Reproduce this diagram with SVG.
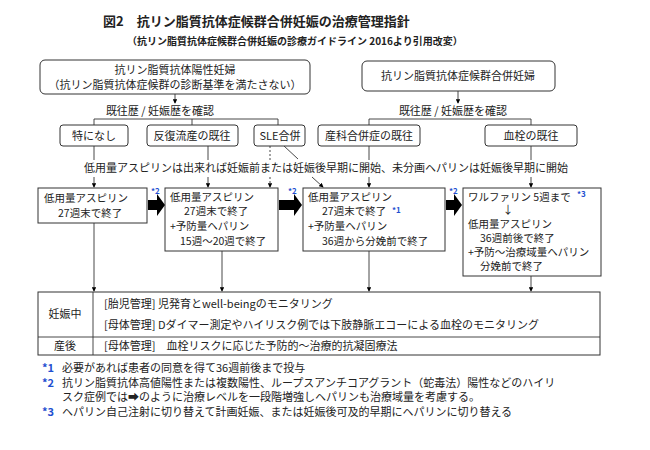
<svg xmlns="http://www.w3.org/2000/svg" width="650" height="450" viewBox="0 0 650 450">
<defs>
<marker id="a" viewBox="0 0 6 6" refX="5" refY="3" markerWidth="5" markerHeight="5" orient="auto"><path d="M0,0L6,3L0,6z" fill="#000"/></marker>
<style>
text{font-family:"Noto Sans CJK JP",sans-serif;font-size:11px;fill:#222}
.t{font-size:13px;font-weight:bold}
.s{font-size:10px;font-weight:bold}
.k{font-size:10.5px}
.b{fill:#fff;stroke:#333;stroke-width:1}
.l{stroke:#333;stroke-width:0.9;fill:none}
.n{fill:#1f4fd0;font-size:8px;font-weight:bold}
.f{fill:#1f4fd0;font-weight:bold}
</style>
</defs>
<rect width="650" height="450" fill="#fff"/>
<text x="103" y="26" class="t">図2　抗リン脂質抗体症候群合併妊娠の治療管理指針</text>
<text x="127" y="45" class="s">（抗リン脂質抗体症候群合併妊娠の診療ガイドライン 2016より引用改変）</text>
<g id="n1"><rect class="b" x="40" y="60" width="270" height="34" rx="5"/><text x="175" y="74" text-anchor="middle">抗リン脂質抗体陽性妊婦</text><text x="175" y="89" text-anchor="middle">（抗リン脂質抗体症候群の診断基準を満たさない）</text></g>
<g id="n2"><rect class="b" x="362" y="61" width="193" height="30" rx="5"/><text x="458" y="80" text-anchor="middle">抗リン脂質抗体症候群合併妊婦</text></g>
<text x="160" y="115" text-anchor="middle">既往歴 / 妊娠歴を確認</text>
<text x="453" y="115" text-anchor="middle">既往歴 / 妊娠歴を確認</text>
<g id="n3"><rect class="b" x="60" y="125" width="68" height="21" rx="3"/><text x="94" y="140" text-anchor="middle">特になし</text></g>
<g id="n4"><rect class="b" x="147" y="125" width="91" height="21" rx="3"/><text x="192" y="140" text-anchor="middle">反復流産の既往</text></g>
<g id="n5"><rect class="b" x="254" y="125" width="51" height="21" rx="3"/><text x="280" y="140" text-anchor="middle">SLE合併</text></g>
<g id="n6"><rect class="b" x="318" y="125" width="102" height="21" rx="3"/><text x="369" y="140" text-anchor="middle">産科合併症の既往</text></g>
<g id="n7"><rect class="b" x="485" y="125" width="92" height="21" rx="3"/><text x="531" y="140" text-anchor="middle">血栓の既往</text></g>
<text x="326" y="172" text-anchor="middle">低用量アスピリンは出来れば妊娠前または妊娠後早期に開始、未分画ヘパリンは妊娠後早期に開始</text>
<g id="n8"><rect class="b" x="38" y="188" width="109" height="35"/><text class="k" x="44" y="202">低用量アスピリン</text><text class="k" x="58" y="217">27週末で終了</text></g>
<g id="n9"><rect class="b" x="165" y="188" width="113" height="63"/><text class="k" x="170" y="201">低用量アスピリン</text><text class="k" x="184" y="215">27週末で終了</text><text class="k" x="170" y="230">+予防量ヘパリン</text><text class="k" x="180" y="245">15週～20週で終了</text></g>
<g id="n10"><rect class="b" x="303" y="188" width="142" height="63"/><text class="k" x="308" y="201">低用量アスピリン</text><text class="k" x="322" y="215">27週末で終了</text><text x="392" y="213" class="n">*1</text><text class="k" x="308" y="230">+予防量ヘパリン</text><text class="k" x="322" y="245">36週から分娩前で終了</text></g>
<g id="n11"><rect class="b" x="463" y="188" width="138" height="88"/><text class="k" x="468" y="201">ワルファリン 5週まで</text><text x="577" y="197" class="n">*3</text><text x="508" y="214" text-anchor="middle" font-size="9">↓</text><text class="k" x="468" y="228">低用量アスピリン</text><text class="k" x="480" y="242">36週前後で終了</text><text class="k" x="468" y="256">+予防～治療域量ヘパリン</text><text class="k" x="480" y="270">分娩前で終了</text></g>
<g id="n12"><rect class="b" x="38" y="292" width="562" height="63"/><line class="l" x1="38" y1="337" x2="600" y2="337"/><line class="l" x1="93" y1="292" x2="93" y2="355"/>
<text x="65" y="318" text-anchor="middle">妊娠中</text><text x="65" y="350" text-anchor="middle">産後</text>
<text x="104" y="308">[胎児管理] 児発育とwell-beingのモニタリング</text>
<text x="104" y="329">[母体管理] Dダイマー測定やハイリスク例では下肢静脈エコーによる血栓のモニタリング</text>
<text x="104" y="350">[母体管理]　血栓リスクに応じた予防的～治療的抗凝固療法</text></g>
<g id="connectors">
<line class="l" x1="175" y1="94" x2="175" y2="103" marker-end="url(#a)"/>
<line class="l" x1="458" y1="91" x2="458" y2="103" marker-end="url(#a)"/>
<path class="l" d="M94,125V119H278V125M192,119V125"/>
<path class="l" d="M369,125V119H531V125"/>
<line class="l" x1="94" y1="146" x2="94" y2="160"/><line class="l" x1="94" y1="177" x2="94" y2="187" marker-end="url(#a)"/>
<line class="l" x1="208" y1="146" x2="208" y2="160"/><line class="l" x1="208" y1="177" x2="208" y2="187" marker-end="url(#a)"/>
<line class="l" x1="270" y1="146" x2="270" y2="160" stroke-dasharray="2,2"/><line class="l" x1="270" y1="177" x2="270" y2="187" stroke-dasharray="2,2" marker-end="url(#a)"/>
<line class="l" x1="284" y1="146" x2="298" y2="159"/><line class="l" x1="312" y1="177" x2="323" y2="187" marker-end="url(#a)"/>
<line class="l" x1="369" y1="146" x2="369" y2="160"/><line class="l" x1="369" y1="177" x2="369" y2="187" marker-end="url(#a)"/>
<line class="l" x1="531" y1="146" x2="531" y2="160"/><line class="l" x1="531" y1="177" x2="531" y2="187" marker-end="url(#a)"/>
<line class="l" x1="94" y1="223" x2="94" y2="291" marker-end="url(#a)"/>
<line class="l" x1="222" y1="251" x2="222" y2="291" marker-end="url(#a)"/>
<line class="l" x1="369" y1="251" x2="369" y2="291" marker-end="url(#a)"/>
<line class="l" x1="531" y1="276" x2="531" y2="291" marker-end="url(#a)"/>
<path d="M148,200h9v-6l8,11l-8,11v-6h-9z" fill="#000"/>
<path d="M279,200h15v-6l8,11l-8,11v-6h-15z" fill="#000"/>
<path d="M446,200h8v-6l8,11l-8,11v-6h-8z" fill="#000"/>
<text x="151" y="194" class="n">*2</text><text x="288" y="194" class="n">*2</text><text x="449" y="194" class="n">*2</text>
</g>
<text x="42" y="372" class="f">*1</text><text x="62" y="372">必要があれば患者の同意を得て36週前後まで投与</text>
<text x="42" y="387" class="f">*2</text><text x="62" y="387">抗リン脂質抗体高値陽性または複数陽性、ループスアンチコアグラント（蛇毒法）陽性などのハイリ</text>
<text x="62" y="401">スク症例では➡のように治療レベルを一段階増強しヘパリンも治療域量を考慮する。</text>
<text x="42" y="416" class="f">*3</text><text x="62" y="416">ヘパリン自己注射に切り替えて計画妊娠、または妊娠後可及的早期にヘパリンに切り替える</text>
</svg>
